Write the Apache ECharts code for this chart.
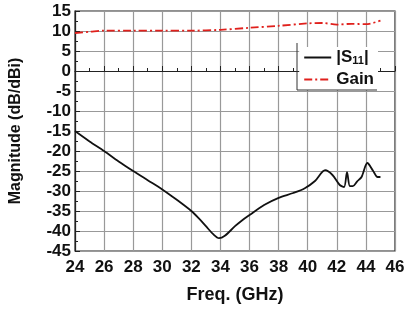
<!DOCTYPE html>
<html>
<head>
<meta charset="utf-8">
<title>S11 and Gain</title>
<script src="https://cdn.jsdelivr.net/npm/echarts@6/dist/echarts.min.js"></script>
<style>
  html, body { margin: 0; padding: 0; background: #fff; }
  #main { width: 408px; height: 309px; }
</style>
</head>
<body>
<div id="main"></div>
<script>
// |S11| (dB)
var s11Freq = [24, 25, 26, 27, 28, 29, 30, 31, 32, 32.5, 33, 33.5, 33.9, 34.3, 35, 35.5, 36, 37, 38, 39, 39.8, 40.5, 41.2, 41.7, 42.2, 42.5, 42.7, 42.9, 43.1, 43.4, 43.7, 44.1, 44.5, 44.8, 45];
var s11Vals = [-15, -17.6, -20, -22.6, -25, -27.3, -29.6, -32.2, -35, -36.8, -38.8, -40.8, -41.8, -41.2, -38.8, -37.3, -36, -33.5, -31.7, -30.5, -29.3, -27.5, -24.8, -26, -28.5, -29, -25.3, -28.8, -28.8, -27.6, -26.5, -23, -25, -26.5, -26.5];
// Gain (dBi)
var gainFreq = [24, 25, 26, 28, 30, 32, 34, 36, 38, 40, 41, 42, 43, 44, 45];
var gainVals = [9.5, 9.8, 10.1, 10.1, 10.1, 10.1, 10.3, 10.8, 11.3, 11.9, 12, 11.6, 11.8, 11.7, 12.6];

var pair = function (xs, ys) { return xs.map(function (x, i) { return [x, ys[i]]; }); };

var chart = echarts.init(document.getElementById('main'));
var font = 'Liberation Sans, Arial, sans-serif';
var option = {
  animation: false,
  grid: { left: 67, right: 13, top: 11, bottom: 57, show: true, borderColor: '#222', borderWidth: 1.2 },
  legend: {
    right: 30, top: 47, orient: 'vertical', itemWidth: 27, itemHeight: 10, itemGap: 5,
    padding: [2, 4, 2, 4],
    backgroundColor: '#fff',
    itemStyle: { opacity: 0 },
    textStyle: { fontFamily: font, fontWeight: 'bold', fontSize: 17, color: '#111',
      rich: { sub: { fontFamily: font, fontWeight: 'bold', fontSize: 11, color: '#111', padding: [6, 0, 0, 0] } } },
    formatter: function (n) { return n === 'S11' ? '|S{sub|11}|' : n; },
    data: ['S11', 'Gain']
  },
  graphic: [
    { type: 'polyline', z: 100, shape: { points: [[297, 43], [297, 90], [377, 90]] }, style: { stroke: '#333', lineWidth: 1, fill: null } }
  ],
  xAxis: {
    type: 'value', min: 24, max: 46, interval: 2,
    name: 'Freq. (GHz)', nameLocation: 'middle', nameGap: 35,
    nameTextStyle: { fontFamily: font, fontWeight: 'bold', fontSize: 18, color: '#111' },
    axisLine: { lineStyle: { color: '#222', width: 1.2 } },
    axisTick: { inside: true, length: 5, lineStyle: { color: '#222' } },
    minorTick: { show: true, splitNumber: 2, length: 3, lineStyle: { color: '#222' } },
    axisLabel: { fontFamily: font, fontWeight: 'bold', fontSize: 17, color: '#111', margin: 8 },
    splitLine: { show: true, lineStyle: { color: '#999', width: 1.2 } }
  },
  yAxis: {
    type: 'value', min: -45, max: 15, interval: 5,
    name: 'Magnitude (dB/dBi)', nameLocation: 'middle', nameGap: 51,
    nameTextStyle: { fontFamily: font, fontWeight: 'bold', fontSize: 16, color: '#111' },
    axisLine: { show: true, lineStyle: { color: '#222', width: 1.2 } },
    axisTick: { inside: true, length: 5, lineStyle: { color: '#222' } },
    minorTick: { show: true, splitNumber: 2, length: 3, lineStyle: { color: '#222' } },
    axisLabel: { fontFamily: font, fontWeight: 'bold', fontSize: 17, color: '#111', margin: 4 },
    splitLine: { show: true, lineStyle: { color: '#999', width: 1.2 } }
  },
  series: [
    { name: 'S11', type: 'line', data: pair(s11Freq, s11Vals), symbol: 'none', smooth: 0.3,
      lineStyle: { color: '#111', width: 1.8 }, itemStyle: { color: '#111' } },
    { name: 'Gain', type: 'line', data: pair(gainFreq, gainVals), symbol: 'none', smooth: 0.3,
      lineStyle: { color: '#e0201c', width: 1.8, type: [8, 3, 2, 3] }, itemStyle: { color: '#e0201c' } }
  ]
};
chart.setOption(option);
</script>
</body>
</html>
